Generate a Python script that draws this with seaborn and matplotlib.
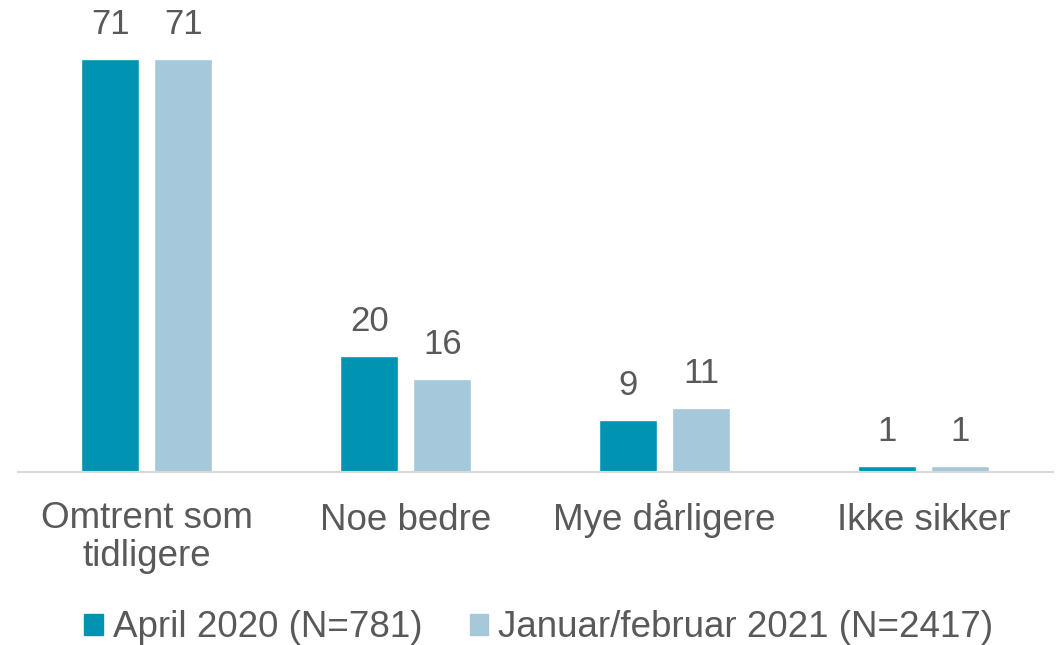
import numpy as np
import pandas as pd
import matplotlib
matplotlib.use("Agg")
import matplotlib.pyplot as plt
import matplotlib.transforms as mtrans
import seaborn as sns

# data
categories = ["Omtrent som\ntidligere", "Noe bedre", "Mye dårligere", "Ikke sikker"]
series_names = ["April 2020 (N=781)", "Januar/februar 2021 (N=2417)"]
april_2020 = [71, 20, 9, 1]
jan_feb_2021 = [71, 16, 11, 1]

df = pd.DataFrame({
    "kategori": categories * 2,
    "serie": [series_names[0]] * 4 + [series_names[1]] * 4,
    "verdi": april_2020 + jan_feb_2021,
})

sns.set_style("white")
plt.rcParams["font.family"] = ["Liberation Sans", "DejaVu Sans"]
text_col = "#595959"
palette = {series_names[0]: "#0093B2", series_names[1]: "#A5C8DA"}

fig = plt.figure(figsize=(10.63, 6.45), dpi=100)
ax = fig.add_axes([0.0165, 0.268, 0.974, 0.722])

sns.barplot(data=df, x="kategori", y="verdi", hue="serie", palette=palette,
            width=0.564, gap=0.205, saturation=1, ax=ax, legend=False)

for cont in ax.containers:
    ax.bar_label(cont, fmt="%d", padding=13, fontsize=25, color=text_col)

ax.set_ylim(0, 80)
ax.set_xlim(-0.5, 3.5)
ax.set_xlabel("")
ax.set_ylabel("")
ax.set_yticks([])
for s in ["top", "right", "left"]:
    ax.spines[s].set_visible(False)
ax.spines["bottom"].set_color("#D9D9D9")
ax.spines["bottom"].set_linewidth(1.5)
ax.tick_params(axis="x", length=0, pad=42, labelsize=26.5, labelcolor=text_col)
for lbl in ax.get_xticklabels():
    lbl.set_linespacing(1.13)
    lbl.set_verticalalignment("baseline")
    n_extra = lbl.get_text().count("\n")
    if n_extra:
        # baseline alignment uses the last line, shift so the first line lines up
        shift = mtrans.ScaledTranslation(0, -0.36 * n_extra, fig.dpi_scale_trans)
        lbl.set_transform(lbl.get_transform() + shift)

handles = [plt.Rectangle((0, 0), 1, 1, color=palette[n]) for n in series_names]
fig.legend(handles, series_names, loc="lower center", bbox_to_anchor=(0.507, -0.052),
           ncol=2, frameon=False, fontsize=26.5, labelcolor=text_col,
           handlelength=0.5, handleheight=0.5, handletextpad=0.27, columnspacing=1.3)

fig.savefig("out.png", dpi=100, facecolor="white")
